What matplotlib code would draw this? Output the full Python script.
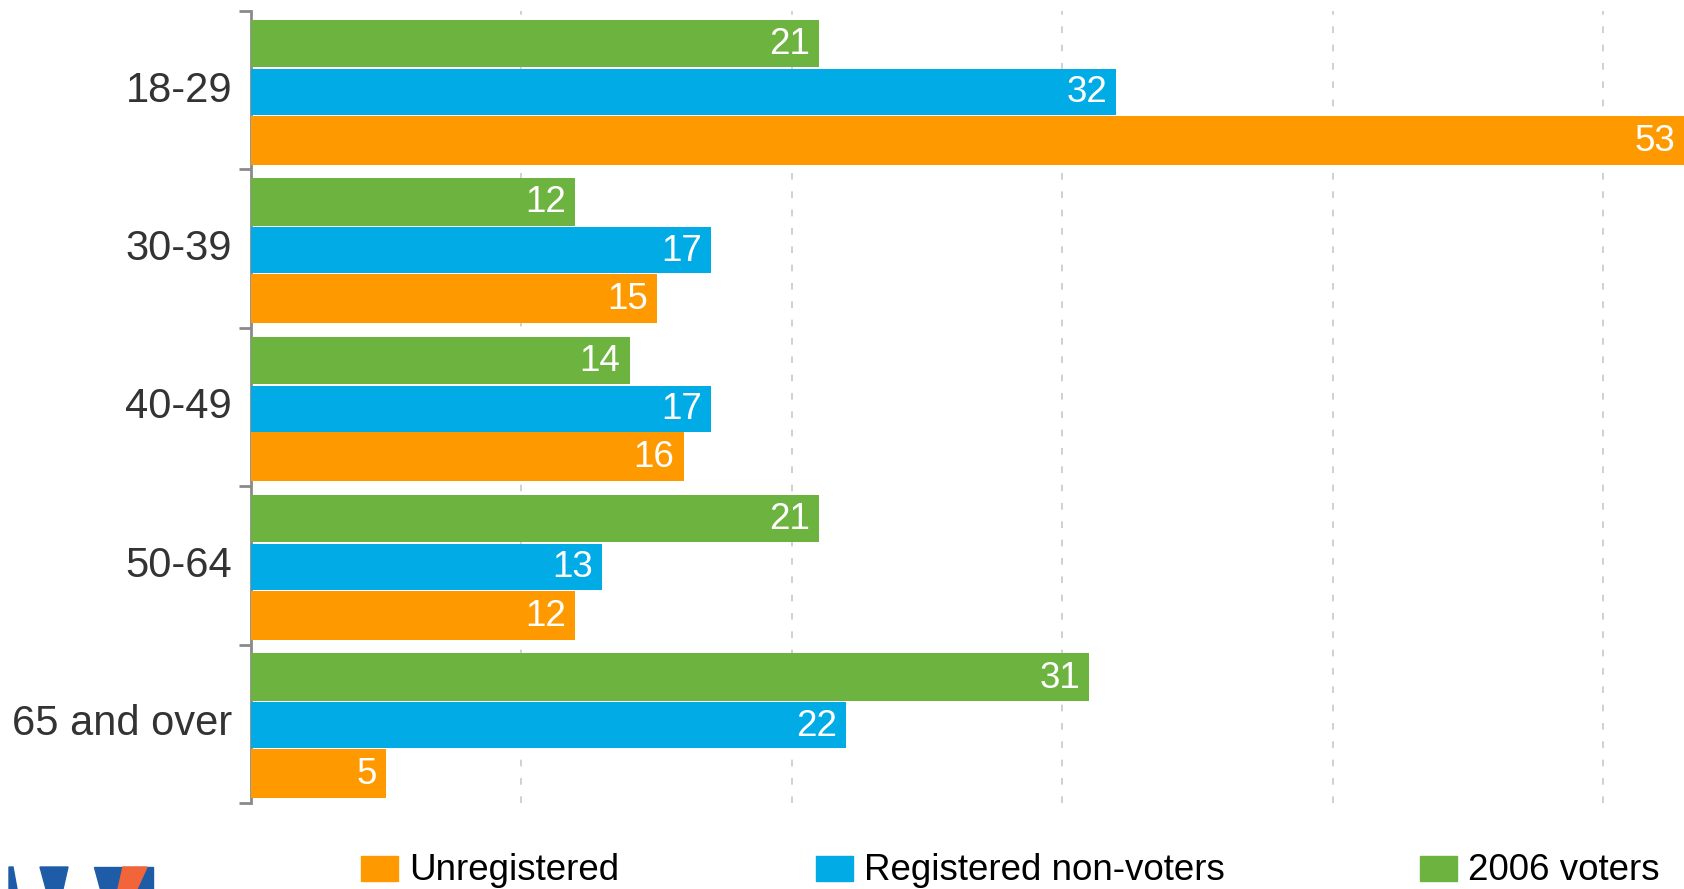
import matplotlib
matplotlib.use("Agg")
import matplotlib.pyplot as plt
import matplotlib.transforms as mtransforms
from matplotlib.patches import Rectangle, Polygon

plt.rcParams['font.family'] = ['Liberation Sans', 'DejaVu Sans']

categories = ["18-29", "30-39", "40-49", "50-64", "65 and over"]
series_names = ["Unregistered", "Registered non-voters", "2006 voters"]
unregistered = [53, 15, 16, 12, 5]
registered_non_voters = [32, 17, 17, 13, 22]
voters_2006 = [21, 12, 14, 21, 31]
series_values = [unregistered, registered_non_voters, voters_2006]
colors = ["#FF9900", "#00ABE6", "#6DB33F"]
offsets = [0.315, 0.01, -0.295]
heights = [0.31, 0.29, 0.30]

W, H = 1684, 889
fig = plt.figure(figsize=(W / 100, H / 100), dpi=100)
ax = fig.add_axes([251 / W, 1 - 803 / H, 1 - 251 / W, (803 - 11) / H])

ys = list(range(len(categories)))
for vals, col, off, bh in zip(series_values, colors, offsets, heights):
    bars = ax.barh([y + off for y in ys], vals, height=bh, color=col, zorder=3)
    for b, v in zip(bars, vals):
        ax.annotate(str(v), (b.get_width(), b.get_y() + b.get_height() / 2),
                    xytext=(-9, -1), textcoords='offset pixels', ha='right', va='center',
                    color='white', fontsize=26.5, zorder=4)

ax.set_xlim(0, 53)
ax.set_ylim(len(categories) - 0.5, -0.5)
ax.set_xticks([10, 20, 30, 40, 50])
ax.tick_params(axis='x', length=0, labelbottom=False)
ax.grid(axis='x', color='#c8c8c8', linestyle=(0, (4, 7)), linewidth=1.2, zorder=0)

ax.set_yticks(ys)
ax.set_yticklabels(categories, fontsize=30, color='#333333')
ax.set_yticks([y - 0.5 for y in range(len(categories) + 1)], minor=True)
ax.tick_params(axis='y', which='major', length=0, pad=13.5)
ax.tick_params(axis='y', which='minor', length=8.5, width=2, color='#8a8a8a')
shift = mtransforms.ScaledTranslation(0, 4 / 100, fig.dpi_scale_trans)
for lab in ax.get_yticklabels():
    lab.set_transform(lab.get_transform() + shift)

for s in ['top', 'right', 'bottom']:
    ax.spines[s].set_visible(False)
ax.spines['left'].set_color('#8a8a8a')
ax.spines['left'].set_linewidth(2)

# legend (manual)
leg_x = [361, 816, 1420]
leg_yc = 870
for name, col, x in zip(series_names, colors, leg_x):
    fig.patches.append(Rectangle((x / W, 1 - (leg_yc + 11) / H), 37 / W, 25 / H,
                                 transform=fig.transFigure, color=col))
    fig.text((x + 48) / W, 1 - leg_yc / H, name, fontsize=26.5, color='black',
             va='center', ha='left')

# logo fragment bottom-left
def px(pts):
    return [(x / W, 1 - y / H) for x, y in pts]

blue = '#1f5ca8'
orange = '#f2643a'
for pts, col in [
    ([(9, 867), (13, 867), (17, 889), (9, 889)], blue),
    ([(40, 867), (68, 867), (63, 889), (46, 889)], blue),
    ([(94, 867), (153, 867), (153, 889), (100, 889)], blue),
    ([(123, 867), (147, 867), (137, 889), (118, 889)], orange),
]:
    fig.patches.append(Polygon(px(pts), closed=True, transform=fig.transFigure,
                               color=col))

fig.savefig("out.png", dpi=100)
